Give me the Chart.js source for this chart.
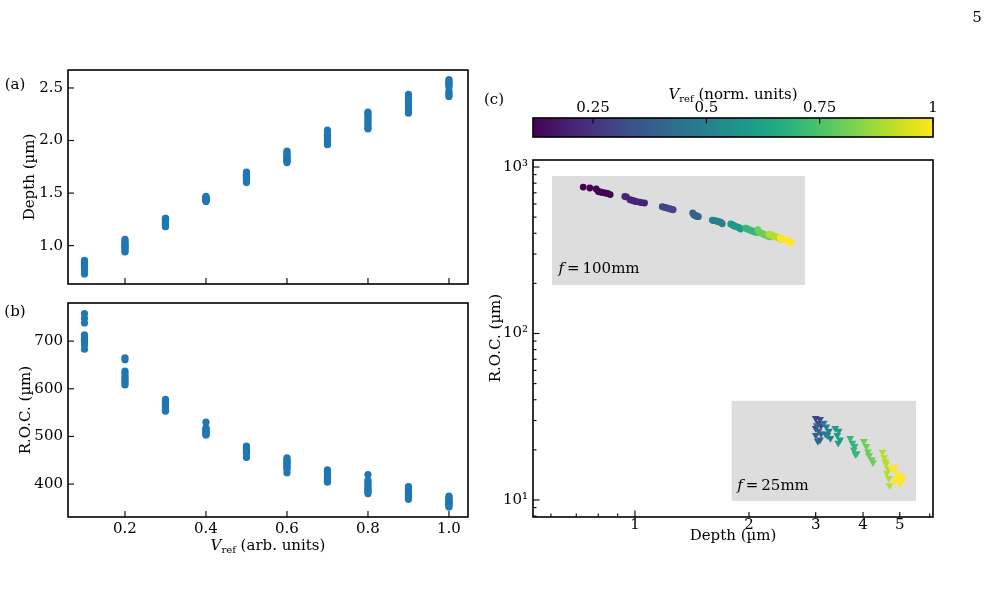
<!DOCTYPE html>
<html><head><meta charset="utf-8">
<script src="https://cdn.jsdelivr.net/npm/chart.js@4.4.1/dist/chart.umd.min.js"></script>
<style>
html,body{margin:0;padding:0;background:#fff;}
#wrap{position:relative;width:989px;height:604px;overflow:hidden;font-family:"DejaVu Serif","Liberation Serif",serif;color:#000;background:#fff;}
canvas{position:absolute;left:0;top:0;}
.t{position:absolute;white-space:nowrap;font-size:15px;line-height:1;transform:translate(-50%,-50%);z-index:5;}
.r{transform:translate(-50%,-50%) rotate(-90deg);}
.t sub{font-size:10px;vertical-align:-3px;line-height:0;}
</style></head>
<body><div id="wrap">
<canvas id="ca" width="989" height="604"></canvas>
<canvas id="cb" width="989" height="604"></canvas>
<canvas id="cc" width="989" height="604"></canvas>
<canvas id="cbar" width="989" height="604"></canvas>
<div class="t" style="left:15px;top:84px">(a)</div>
<div class="t" style="left:15px;top:311px">(b)</div>
<div class="t" style="left:494px;top:99px">(c)</div>
<div class="t" style="left:977px;top:17px">5</div>
<div class="t r" style="left:29px;top:177px">Depth (µm)</div>
<div class="t r" style="left:25px;top:410px">R.O.C. (µm)</div>
<div class="t" style="left:268px;top:545px"><i>V</i><sub>ref</sub> (arb. units)</div>
<div class="t r" style="left:495px;top:338px">R.O.C. (µm)</div>
<div class="t" style="left:733px;top:535px">Depth (µm)</div>
<div class="t" style="left:733px;top:94px"><i>V</i><sub>ref</sub> (norm. units)</div>
<div class="t" style="left:599px;top:268px;"><i>f</i>&#8201;=&#8201;100mm</div>
<div class="t" style="left:773px;top:485px;"><i>f</i>&#8201;=&#8201;25mm</div>
</div>
<script>
// ---------------- data ----------------
const vref = [0.1, 0.2, 0.3, 0.4, 0.5, 0.6, 0.7, 0.8, 0.9, 1.0];
// depth (um) of the repeated runs at each V_ref, panel (a)
const depthRuns = [
  [0.73, 0.76, 0.79, 0.80, 0.81, 0.82, 0.83, 0.84, 0.85, 0.86],
  [0.94, 0.95, 0.97, 0.98, 0.99, 1.00, 1.01, 1.03, 1.04, 1.06],
  [1.18, 1.19, 1.20, 1.21, 1.22, 1.23, 1.24, 1.25, 1.26, 1.26],
  [1.42, 1.43, 1.43, 1.44, 1.44, 1.45, 1.45, 1.46, 1.46, 1.47],
  [1.60, 1.61, 1.62, 1.64, 1.65, 1.66, 1.67, 1.68, 1.69, 1.70],
  [1.79, 1.80, 1.81, 1.82, 1.83, 1.84, 1.86, 1.87, 1.89, 1.90],
  [1.96, 1.97, 1.98, 2.00, 2.01, 2.03, 2.05, 2.06, 2.08, 2.10],
  [2.11, 2.12, 2.14, 2.16, 2.18, 2.20, 2.22, 2.24, 2.26, 2.27],
  [2.26, 2.28, 2.30, 2.32, 2.34, 2.36, 2.38, 2.40, 2.42, 2.44],
  [2.42, 2.43, 2.45, 2.47, 2.51, 2.53, 2.54, 2.55, 2.57, 2.58]
];
// R.O.C. (um) of the same runs, panel (b)
const rocRuns = [
  [758, 748, 738, 713, 708, 704, 700, 696, 692, 683],
  [665, 661, 637, 632, 627, 623, 619, 615, 611, 608],
  [578, 575, 572, 569, 566, 563, 560, 557, 555, 553],
  [530, 518, 516, 514, 512, 510, 508, 506, 504, 503],
  [480, 478, 476, 474, 472, 470, 468, 466, 464, 456],
  [455, 452, 449, 446, 443, 440, 437, 434, 431, 424],
  [430, 427, 424, 421, 418, 415, 412, 409, 406, 404],
  [420, 408, 404, 400, 396, 392, 389, 386, 383, 380],
  [395, 392, 389, 386, 383, 380, 377, 374, 371, 368],
  [375, 372, 369, 366, 364, 362, 360, 358, 355, 352]
];
// f = 25 mm lens, panel (c)
const f25Vref = [0.3, 0.4, 0.5, 0.6, 0.7, 0.8, 0.9, 1.0];
const f25Depth = [
  [3.00, 3.05, 3.10, 3.00, 3.08],
  [3.02, 3.05, 3.10, 3.00, 3.08, 3.04],
  [3.15, 3.20, 3.25, 3.22, 3.28, 3.18],
  [3.38, 3.45, 3.42, 3.48, 3.44],
  [3.70, 3.75, 3.80, 3.78, 3.85, 3.82],
  [4.02, 4.08, 4.12, 4.15, 4.22, 4.25],
  [4.50, 4.58, 4.55, 4.60, 4.65, 4.62, 4.68, 4.70],
  [4.75, 4.85, 4.90, 4.95, 5.05, 5.10, 4.85, 5.00]
];
const f25Roc = [
  [31.0, 29.0, 28.0, 27.0, 30.5],
  [28.0, 26.0, 25.0, 24.5, 23.0, 22.5],
  [29.0, 27.5, 26.0, 24.5, 23.5, 25.0],
  [27.0, 26.0, 24.5, 23.0, 22.0],
  [23.5, 22.0, 21.0, 20.0, 19.0, 18.8],
  [22.5, 21.0, 19.5, 18.5, 17.5, 16.8],
  [19.4, 17.0, 18.0, 16.5, 15.5, 14.5, 13.5, 12.2],
  [15.5, 15.8, 14.5, 13.5, 14.0, 13.2, 13.0, 12.5]
];
// ticks
const abXTicks = [0.2, 0.4, 0.6, 0.8, 1.0];
const abXLabels = ['0.2', '0.4', '0.6', '0.8', '1.0'];
const aYTicks = [1.0, 1.5, 2.0, 2.5];
const aYLabels = ['1.0', '1.5', '2.0', '2.5'];
const bYTicks = [400, 500, 600, 700];
const bYLabels = ['400', '500', '600', '700'];
const cXTicks = [0.6, 0.7, 0.8, 0.9, 1, 2, 3, 4, 5, 6];
const cXLabels = ['', '', '', '', '1', '2', '3', '4', '5', ''];
const cYTicks = [8, 9, 10, 20, 30, 40, 50, 60, 70, 80, 90, 100, 200, 300, 400, 500, 600, 700, 800, 900, 1000];
const cYLabels = ['', '', '10\u00B9', '', '', '', '', '', '', '', '', '10\u00B2', '', '', '', '', '', '', '', '', '10\u00B3'];
const cbTicks = [0.25, 0.5, 0.75, 1];
const cbLabels = ['0.25', '0.5', '0.75', '1'];
const cbMin = 0.1176, cbMax = 1.0;

// viridis colormap stops
const viridisStops = ['#440154','#471365','#482475','#463480','#414487','#3b528b','#355f8d','#2f6c8e','#2a788e','#25848e','#21918c','#1e9c89','#22a884','#2fb47c','#44bf70','#5ec962','#7ad151','#9bd93c','#bddf26','#dfe318','#fde725'];
function hex2rgb(h){return [parseInt(h.slice(1,3),16),parseInt(h.slice(3,5),16),parseInt(h.slice(5,7),16)];}
const vRGB = viridisStops.map(hex2rgb);
function viridis(t){
  t = Math.max(0, Math.min(1, t));
  const f = t * (vRGB.length - 1), i = Math.min(vRGB.length - 2, Math.floor(f)), r = f - i;
  const c = vRGB[i].map((v, k) => Math.round(v + (vRGB[i+1][k] - v) * r));
  return 'rgb(' + c.join(',') + ')';
}
function cnorm(v){ return (v - cbMin) / (cbMax - cbMin); }

// ---------------- helpers ----------------
const FONT = {family: '"DejaVu Serif","Liberation Serif",serif', size: 15};
const W = 989, H = 604;
function zeroPad(s){ s.paddingLeft = 0; s.paddingRight = 0; s.paddingTop = 0; s.paddingBottom = 0; }
function fixW(w){ return s => { s.width = w; zeroPad(s); }; }
function fixH(h){ return s => { s.height = h; zeroPad(s); }; }
function setTicks(vals){ return s => { s.ticks = vals.map(v => ({value: v})); }; }
function labelFrom(vals, labels){ return (value) => { const i = vals.findIndex(v => Math.abs(v - value) < 1e-9); return i >= 0 ? labels[i] : ''; }; }

const tickCfg = {}; // canvas id -> {scaleId: fn(value)->length}
const frameTicks = {
  id: 'frameTicks',
  afterDraw(chart){
    const cfg = tickCfg[chart.canvas.id] || {};
    const ctx = chart.ctx, a = chart.chartArea;
    ctx.save();
    ctx.strokeStyle = '#000';
    ctx.lineWidth = 1.1;
    for (const id in cfg){
      const s = chart.scales[id];
      if (!s) continue;
      s.ticks.forEach(t => {
        const len = cfg[id](t.value);
        const p = s.getPixelForValue(t.value);
        ctx.beginPath();
        if (s.position === 'bottom'){ ctx.moveTo(p, a.bottom); ctx.lineTo(p, a.bottom - len); }
        else if (s.position === 'left'){ ctx.moveTo(a.left, p); ctx.lineTo(a.left + len, p); }
        else if (s.position === 'top'){ ctx.moveTo(p, a.top); ctx.lineTo(p, a.top + len); }
        ctx.stroke();
      });
    }
    ctx.lineWidth = 1.6;
    ctx.strokeRect(a.left, a.top, a.right - a.left, a.bottom - a.top);
    ctx.restore();
  }
};
Chart.register(frameTicks);

function axisBase(){
  return {grid: {display: false, drawTicks: false}, border: {display: false}};
}
const commonOpts = (pad) => ({
  responsive: false, animation: false, events: [],
  layout: {padding: pad},
  plugins: {legend: {display: false}, tooltip: {enabled: false}}
});

// ---------------- panel (a) ----------------
const blue = '#1f77b4';
const ptsA = [], ptsB = [];
vref.forEach((v, i) => {
  depthRuns[i].forEach(d => ptsA.push({x: v, y: d}));
  rocRuns[i].forEach(r => ptsB.push({x: v, y: r}));
});
const abXMin = 0.0593, abXMax = 1.047;

tickCfg.ca = {x: () => 6, y: () => 6};
new Chart(document.getElementById('ca'), {
  type: 'scatter',
  data: {datasets: [{data: ptsA, backgroundColor: blue, borderWidth: 0, pointRadius: 3.6}]},
  options: Object.assign(commonOpts({left: 0, top: 70, right: W - 468, bottom: H - 284 - 16}), {
    scales: {
      x: Object.assign(axisBase(), {type: 'linear', position: 'bottom', min: abXMin, max: abXMax,
        ticks: {display: false, autoSkip: false}, afterBuildTicks: setTicks(abXTicks), afterFit: fixH(16)}),
      y: Object.assign(axisBase(), {type: 'linear', position: 'left', min: 0.635, max: 2.671,
        ticks: {autoSkip: false, padding: 5, color: '#000', font: FONT, callback: labelFrom(aYTicks, aYLabels)},
        afterBuildTicks: setTicks(aYTicks), afterFit: fixW(68)})
    }
  })
});

// ---------------- panel (b) ----------------
tickCfg.cb = {x: () => 6, y: () => 6};
new Chart(document.getElementById('cb'), {
  type: 'scatter',
  data: {datasets: [{data: ptsB, backgroundColor: blue, borderWidth: 0, pointRadius: 3.6}]},
  options: Object.assign(commonOpts({left: 0, top: 303, right: W - 468, bottom: H - 517 - 30}), {
    scales: {
      x: Object.assign(axisBase(), {type: 'linear', position: 'bottom', min: abXMin, max: abXMax,
        ticks: {autoSkip: false, maxRotation: 0, padding: 3, color: '#000', font: FONT, callback: labelFrom(abXTicks, abXLabels)},
        afterBuildTicks: setTicks(abXTicks), afterFit: fixH(30)}),
      y: Object.assign(axisBase(), {type: 'linear', position: 'left', min: 331, max: 780,
        ticks: {autoSkip: false, padding: 5, color: '#000', font: FONT, callback: labelFrom(bYTicks, bYLabels)},
        afterBuildTicks: setTicks(bYTicks), afterFit: fixW(68)})
    }
  })
});

// ---------------- panel (c) ----------------
const pts100 = [], pts25 = [];
vref.forEach((v, i) => {
  depthRuns[i].forEach((d, k) => pts100.push({x: d, y: rocRuns[i][k], v: v}));
});
f25Vref.forEach((v, i) => {
  f25Depth[i].forEach((d, k) => pts25.push({x: d, y: f25Roc[i][k], v: v}));
});
const insetRegions = [
  {x0: 0.604, x1: 2.81, y0: 195.5, y1: 883},
  {x0: 1.80, x1: 5.52, y0: 9.86, y1: 39.4}
];
const insetPlugin = {
  id: 'insets',
  beforeDatasetsDraw(chart){
    const xs = chart.scales.x, ys = chart.scales.y, ctx = chart.ctx;
    ctx.save();
    ctx.fillStyle = '#dddddd';
    insetRegions.forEach(r => {
      const x0 = xs.getPixelForValue(r.x0), x1 = xs.getPixelForValue(r.x1);
      const y0 = ys.getPixelForValue(r.y0), y1 = ys.getPixelForValue(r.y1);
      ctx.fillRect(x0, y1, x1 - x0, y0 - y1);
    });
    ctx.restore();
  }
};
function decade(v){ const l = Math.log10(v); return Math.abs(l - Math.round(l)) < 1e-9; }
tickCfg.cc = {
  x: v => decade(v) ? 6.5 : (labelFrom(cXTicks, cXLabels)(v) ? 5 : 3.5),
  y: v => decade(v) ? 6.5 : 3.5
};
new Chart(document.getElementById('cc'), {
  type: 'scatter',
  data: {datasets: [
    {data: pts100, pointStyle: 'circle', pointRadius: 3.4, borderWidth: 0,
     backgroundColor: c => viridis(cnorm(c.raw ? c.raw.v : 0.1))},
    {data: pts25, pointStyle: 'triangle', rotation: 180, pointRadius: 4.5, borderWidth: 0,
     backgroundColor: c => viridis(cnorm(c.raw ? c.raw.v : 0.1))}
  ]},
  plugins: [insetPlugin],
  options: Object.assign(commonOpts({left: 533 - 50, top: 160, right: W - 933, bottom: H - 517 - 30}), {
    scales: {
      x: Object.assign(axisBase(), {type: 'logarithmic', position: 'bottom', min: 0.538, max: 6.12,
        ticks: {autoSkip: false, maxRotation: 0, padding: -1, color: '#000', font: FONT, callback: labelFrom(cXTicks, cXLabels)},
        afterBuildTicks: setTicks(cXTicks), afterFit: fixH(30)}),
      y: Object.assign(axisBase(), {type: 'logarithmic', position: 'left', min: 7.9, max: 1102,
        ticks: {autoSkip: false, padding: 5, color: '#000', font: FONT, callback: labelFrom(cYTicks, cYLabels)},
        afterBuildTicks: setTicks(cYTicks), afterFit: fixW(50)})
    }
  })
});

// ---------------- colorbar ----------------
const gradPlugin = {
  id: 'grad',
  beforeDatasetsDraw(chart){
    const s = chart.scales.x, a = chart.chartArea, ctx = chart.ctx;
    ctx.save();
    for (let px = Math.floor(a.left); px < a.right; px++){
      const v = s.getValueForPixel(px + 0.5);
      ctx.fillStyle = viridis(cnorm(v));
      ctx.fillRect(px, a.top, 1.5, a.bottom - a.top);
    }
    ctx.restore();
  }
};
tickCfg.cbar = {x: () => 5.5};
new Chart(document.getElementById('cbar'), {
  type: 'scatter',
  data: {datasets: []},
  plugins: [gradPlugin],
  options: Object.assign(commonOpts({left: 533, top: 118 - 25, right: W - 933, bottom: H - 137}), {
    scales: {
      x: Object.assign(axisBase(), {type: 'linear', position: 'top', min: cbMin, max: cbMax,
        ticks: {autoSkip: false, maxRotation: 0, padding: 1, color: '#000', font: FONT, callback: labelFrom(cbTicks, cbLabels)},
        afterBuildTicks: setTicks(cbTicks), afterFit: fixH(25)}),
      y: {display: false, min: 0, max: 1}
    }
  })
});
</script>
</body></html>
